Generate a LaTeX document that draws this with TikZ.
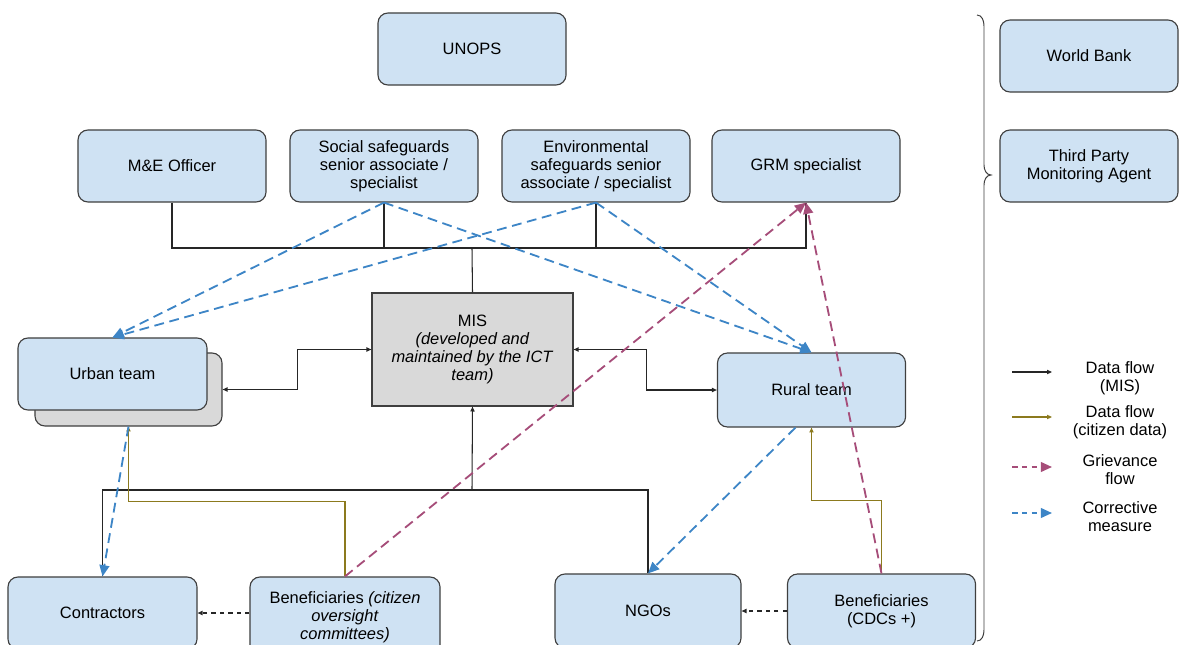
\documentclass[tikz,border=0pt]{standalone}
\usepackage{fontspec}
\setmainfont{Liberation Sans}
\usetikzlibrary{arrows.meta,calc}
\definecolor{boxblue}{HTML}{CFE2F3}
\definecolor{boxgray}{HTML}{D9D9D9}
\definecolor{edgegray}{HTML}{3F3F3F}
\definecolor{fixblue}{HTML}{3D85C6}
\definecolor{grvred}{HTML}{A64D79}
\definecolor{citolive}{HTML}{8C7A1E}
\tikzstyle{unit} = [draw=edgegray, line width=0.8pt, fill=boxblue, rounded corners=0.25cm, align=center, font=\fontsize{11.7}{12.8}\selectfont, minimum width=4.7cm, minimum height=1.8cm, inner sep=2pt]
\tikzstyle{legtext} = [align=center, font=\fontsize{11.7}{12.8}\selectfont]
\tikzstyle{datamis} = [line width=0.75pt, draw=black!85]
\tikzstyle{arrow} = [-{Triangle[length=3.5pt,width=3pt]}]
\tikzstyle{twoway} = [{Triangle[length=3.5pt,width=3pt]}-{Triangle[length=3.5pt,width=3pt]}]
\tikzstyle{citizen} = [line width=0.8pt, draw=citolive, -{Triangle[length=3.5pt,width=3pt]}]
\tikzstyle{grievance} = [line width=1.3pt, draw=grvred, dash pattern=on 7pt off 4pt, -{Triangle[length=8pt,width=7pt]}]
\tikzstyle{corrective} = [line width=1.3pt, draw=fixblue, dash pattern=on 7pt off 4pt, -{Triangle[length=8pt,width=7pt]}]

\begin{document}
\begin{tikzpicture}[x=0.025cm, y=-0.025cm]
  \useasboundingbox (0,0) rectangle (1180,645);

  \node[unit] at (472,49) (unops) {UNOPS};
  \node[unit, minimum width=4.45cm] at (1089,56) (wb) {World Bank};
  \node[unit, minimum width=4.45cm] at (1089,166) (tpm) {Third Party\\Monitoring Agent};

  \node[unit] at (172,166) (me) {M\&E Officer};
  \node[unit] at (384,166) (social) {Social safeguards\\senior associate /\\specialist};
  \node[unit] at (596,166) (env) {Environmental\\safeguards senior\\associate / specialist};
  \node[unit] at (806,166) (grm) {GRM specialist};

  \node[unit, fill=boxgray, minimum width=4.675cm, minimum height=1.825cm] at (128.5,389.5) (urbanback) {};
  \node[unit, minimum width=4.725cm] at (112.5,374) (urban) {Urban team};
  \node[unit, minimum height=1.85cm] at (811.5,390) (rural) {Rural team};
  \node[unit, fill=boxgray, rounded corners=0pt, minimum width=5.025cm, minimum height=2.825cm] at (472.5,349.5) (mis)
    {MIS\\\textit{(developed and}\\\textit{maintained by the ICT}\\\textit{team)}};

  \node[unit, minimum width=4.725cm] at (102.5,613) (contractors) {Contractors};
  \node[unit, minimum width=4.75cm, minimum height=2cm] at (345,617) (benef)
    {Beneficiaries \textit{(citizen}\\\textit{oversight}\\\textit{committees)}};
  \node[unit, minimum width=4.65cm, minimum height=1.85cm] at (648,611) (ngos) {NGOs};
  \node[unit, minimum height=1.85cm] at (881.5,611) (cdc) {Beneficiaries\\(CDCs +)};

  \draw[edgegray, line width=0.7pt] (977,15) to[out=0,in=90] (984,26) -- (984,165)
    to[out=-90,in=180] (991,175) to[out=180,in=90] (984,185) -- (984,630) to[out=-90,in=0] (977,641);

  \coordinate (topbar) at (472,248);
  \coordinate (lowbar) at (472,490);
  \draw[datamis] (me.south) |- (topbar) -| (grm.south);
  \draw[datamis] (social.south) -- (social.south |- topbar);
  \draw[datamis] (env.south) -- (env.south |- topbar);
  \draw[datamis] (topbar) -- (mis.north);
  \draw[datamis,twoway] (urbanback.east) -- ++(75,0) |- (mis.west);
  \draw[datamis,twoway] (mis.east) -- ++(73,0) |- (rural.west);
  \draw[datamis] (contractors.north) |- (lowbar) -| (ngos.north);
  \draw[datamis,arrow] (lowbar) -- (mis.south);

  \draw[citizen] (benef.north) -- ++(0,-75) -| (urbanback.south);
  \draw[citizen] (cdc.north) -- ++(0,-73) -| (rural.south);

  \draw[datamis,arrow,dashed] (benef.west |- contractors.east) -- (contractors.east);
  \draw[datamis,arrow,dashed] (cdc.west) -- (ngos.east);

  \draw[grievance] (benef.north) -- (grm.south);
  \draw[grievance] (cdc.north) -- (grm.south);

  \draw[corrective] (social.south) -- (urban.north);
  \draw[corrective] (env.south) -- (urban.north);
  \draw[corrective] (social.south) -- (rural.north);
  \draw[corrective] (env.south) -- (rural.north);
  \draw[corrective] (urbanback.south) -- (contractors.north);
  \draw[corrective] ([xshift=-0.4cm]rural.south) -- (ngos.north);

  \coordinate (leg1a) at (1012,372); \coordinate (leg1b) at (1052,372);
  \coordinate (leg2a) at (1012,417); \coordinate (leg2b) at (1052,417);
  \coordinate (leg3a) at (1012,467); \coordinate (leg3b) at (1052,467);
  \coordinate (leg4a) at (1012,513); \coordinate (leg4b) at (1052,513);
  \draw[datamis,arrow] (leg1a) -- (leg1b);
  \draw[citizen] (leg2a) -- (leg2b);
  \draw[grievance, dash pattern=on 4pt off 3pt] (leg3a) -- (leg3b);
  \draw[corrective, dash pattern=on 4pt off 3pt] (leg4a) -- (leg4b);
  \node[legtext] at (1120,378) (legmis) {Data flow\\(MIS)};
  \node[legtext] at (1120,422) (legcit) {Data flow\\(citizen data)};
  \node[legtext] at (1120,470) (leggrv) {Grievance\\flow};
  \node[legtext] at (1120,517) (legfix) {Corrective\\measure};
\end{tikzpicture}
\end{document}
